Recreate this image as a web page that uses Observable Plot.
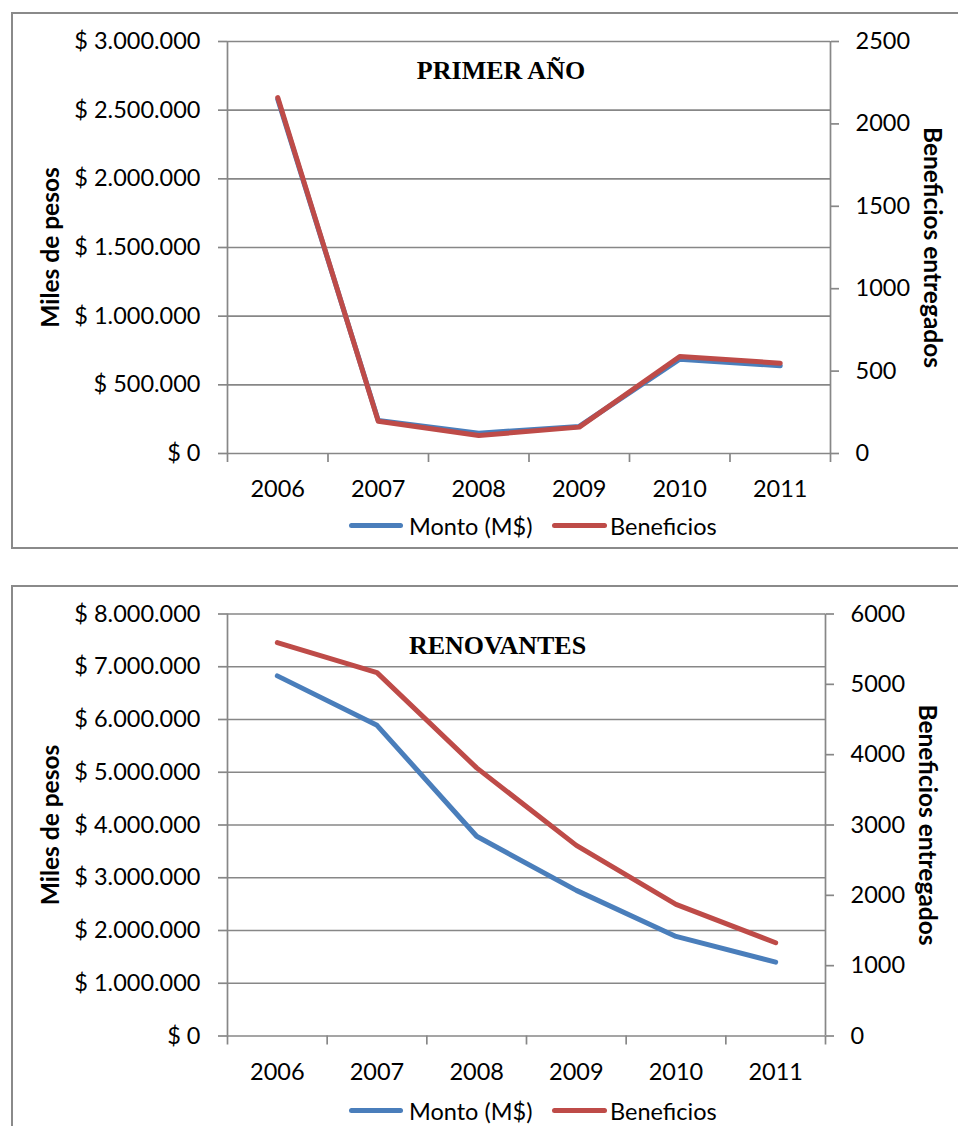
<!DOCTYPE html>
<html>
<head>
<meta charset="utf-8">
<script src="https://cdn.jsdelivr.net/npm/d3@7"></script>
<script src="https://cdn.jsdelivr.net/npm/@observablehq/plot@0.6"></script>
<style>
  html, body { margin: 0; padding: 0; background: #fff; width: 958px; height: 1126px; overflow: hidden; position: relative; }
  .chart { position: absolute; left: 0; }
  .box { position: absolute; left: 11px; width: 1000px; border: 2px solid #8a8a8a; box-sizing: border-box; background: transparent; pointer-events: none; }
  .legend { position: absolute; left: 0; width: 958px; height: 30px; font-family: Lato, sans-serif; font-size: 23.5px; color: #000; }
  .sw { position: absolute; top: 12px; height: 5px; border-radius: 3px; }
  .lt { position: absolute; top: 0; line-height: 30px; white-space: nowrap; }
</style>
</head>
<body>
<div id="c1" class="chart" style="top:0px"></div>
<div id="c2" class="chart" style="top:573px"></div>
<div class="legend" id="lg1" style="top:511px"></div>
<div class="legend" id="lg2" style="top:1096px"></div>
<div class="box" style="top:12px;height:537px"></div>
<div class="box" style="top:585px;height:600px"></div>
<script>
// ---- data ----
const years = [2006, 2007, 2008, 2009, 2010, 2011];

const primerTitle = "PRIMER AÑO";
const primerMonto = [2580000, 240000, 148000, 197000, 687000, 639000];
const primerBenef = [2160, 196, 109, 160, 589, 548];
const primerLeftTicks = [0, 500000, 1000000, 1500000, 2000000, 2500000, 3000000];
const primerRightTicks = [0, 500, 1000, 1500, 2000, 2500];

const renovTitle = "RENOVANTES";
const renovMonto = [6827000, 5890000, 3786000, 2761000, 1888000, 1400000];
const renovBenef = [5593, 5166, 3812, 2710, 1871, 1326];
const renovLeftTicks = [0, 1000000, 2000000, 3000000, 4000000, 5000000, 6000000, 7000000, 8000000];
const renovRightTicks = [0, 1000, 2000, 3000, 4000, 5000, 6000];

const seriesNames = ["Monto (M$)", "Beneficios"];
const leftTitle = "Miles de pesos";
const rightTitle = "Beneficios entregados";

// ---- styles ----
const BLUE = "#4a7ebb";
const RED = "#be4b48";
const GRID = "#878787";

const locale = d3.formatLocale({decimal: ",", thousands: ".", grouping: [3], currency: ["$ ", ""]});
const money = locale.format("$,");

function makeChart({monto, benef, leftTicks, rightTicks, title, titleDx, titleDy, marginTop, marginBottom, marginRight, height}) {
  const leftMax = leftTicks[leftTicks.length - 1];
  const rightMax = rightTicks[rightTicks.length - 1];
  const k = leftMax / rightMax;
  const data = years.map((y, i) => ({year: y, monto: monto[i], benef: benef[i] * k}));
  const bounds = years.map(y => y - 0.5).concat([years[years.length - 1] + 0.5]);
  const xDomain = [bounds[0], bounds[bounds.length - 1]];
  return Plot.plot({
    width: 958,
    height,
    marginLeft: 227,
    marginRight,
    marginTop,
    marginBottom,
    style: {background: "transparent", fontFamily: "Lato, sans-serif", fontSize: "23.5px", color: "#000", overflow: "visible"},
    x: {type: "linear", domain: xDomain},
    y: {type: "linear", domain: [0, leftMax]},
    marks: [
      Plot.ruleY(leftTicks, {stroke: GRID, strokeWidth: 1.7}),
      Plot.ruleX(xDomain, {stroke: GRID, strokeWidth: 1.7}),
      Plot.axisY(leftTicks, {anchor: "left", tickSize: 9, tickPadding: 18, tickFormat: money, stroke: GRID, strokeWidth: 1.7, fill: "#000", label: null}),
      Plot.axisY(rightTicks.map(v => v * k), {anchor: "right", tickSize: 8, tickPadding: 17, tickFormat: d => String(Math.round(d / k)), stroke: GRID, strokeWidth: 1.7, fill: "#000", label: null}),
      Plot.axisX(bounds, {anchor: "bottom", tickSize: 9, tickFormat: () => "", stroke: GRID, strokeWidth: 1.7, label: null}),
      Plot.axisX(years, {anchor: "bottom", tickSize: 0, tickPadding: 27, tickFormat: d => String(d), fill: "#000", label: null}),
      Plot.line(data, {x: "year", y: "monto", stroke: BLUE, strokeWidth: 5, strokeLinecap: "round", strokeLinejoin: "round"}),
      Plot.line(data, {x: "year", y: "benef", stroke: RED, strokeWidth: 5, strokeLinecap: "round", strokeLinejoin: "round"}),
      Plot.text([title], {frameAnchor: "top", dx: titleDx, dy: titleDy, fontFamily: "Liberation Serif, Times New Roman, serif", fontWeight: "bold", fontSize: 26, fill: "#000"}),
      Plot.text([leftTitle], {frameAnchor: "left", textAnchor: "middle", dx: -176, rotate: -90, fontWeight: "bold", fontSize: 24.5, fill: "#000"}),
      Plot.text([rightTitle], {frameAnchor: "right", textAnchor: "middle", dx: 101, rotate: 90, fontWeight: "bold", fontSize: 24.5, fill: "#000"})
    ]
  });
}

document.getElementById("c1").appendChild(makeChart({
  monto: primerMonto, benef: primerBenef, leftTicks: primerLeftTicks, rightTicks: primerRightTicks,
  title: primerTitle, titleDx: -28, titleDy: 19, marginTop: 41, marginBottom: 57, marginRight: 128, height: 510
}));
document.getElementById("c2").appendChild(makeChart({
  monto: renovMonto, benef: renovBenef, leftTicks: renovLeftTicks, rightTicks: renovRightTicks,
  title: renovTitle, titleDx: -29, titleDy: 22, marginTop: 40.5, marginBottom: 57.5, marginRight: 133, height: 520
}));

function legend(id) {
  const el = document.getElementById(id);
  const items = [
    {color: BLUE, name: seriesNames[0], sx: 349, sw: 54, tx: 409},
    {color: RED, name: seriesNames[1], sx: 552, sw: 55, tx: 610}
  ];
  for (const it of items) {
    const s = document.createElement("div");
    s.className = "sw"; s.style.left = it.sx + "px"; s.style.width = it.sw + "px"; s.style.background = it.color;
    el.appendChild(s);
    const t = document.createElement("div");
    t.className = "lt"; t.style.left = it.tx + "px"; t.textContent = it.name;
    el.appendChild(t);
  }
}
legend("lg1");
legend("lg2");
</script>
</body>
</html>
